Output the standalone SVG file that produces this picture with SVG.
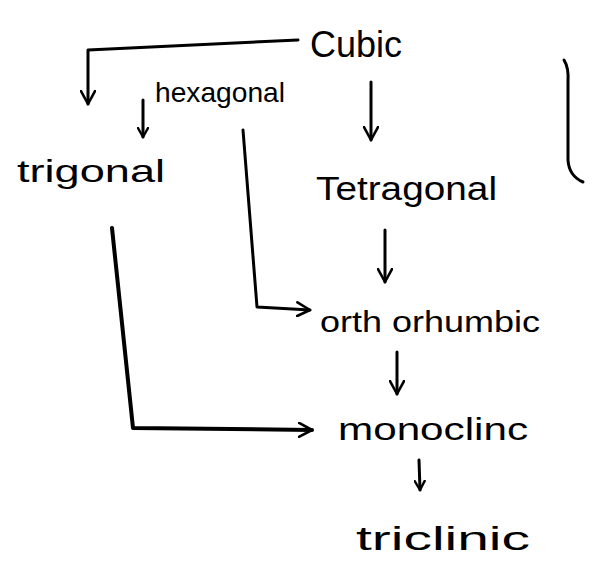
<svg xmlns="http://www.w3.org/2000/svg" width="593" height="570" viewBox="0 0 593 570">
  <style>
    .lbl { font-family: "Liberation Sans", "DejaVu Sans", sans-serif; fill: #000; }
    .ln { fill: none; stroke: #000; stroke-width: 3; stroke-linecap: round; stroke-linejoin: round; }
  </style>
  <defs>
    <marker id="arr" viewBox="0 0 12 12" refX="10" refY="6" markerWidth="12" markerHeight="12" markerUnits="userSpaceOnUse" orient="auto">
      <path d="M1,1 L10,6 L1,11" fill="none" stroke="#000" stroke-width="2.4" stroke-linecap="round" stroke-linejoin="round"/>
    </marker>
    <marker id="arrL" viewBox="0 0 16 16" refX="14" refY="8" markerWidth="16" markerHeight="16" markerUnits="userSpaceOnUse" orient="auto">
      <path d="M1,1 L14,8 L1,15" fill="none" stroke="#000" stroke-width="2.6" stroke-linecap="round" stroke-linejoin="round"/>
    </marker>
  </defs>
  <rect width="593" height="570" fill="#fff"/>

  <g id="connectors">
    <!-- cubic to trigonal branch -->
    <path class="ln" d="M298,40 L88,50 L88,104" marker-end="url(#arrL)"/>
    <!-- hexagonal to trigonal -->
    <path class="ln" d="M143,100 L143,137" marker-end="url(#arr)"/>
    <!-- cubic to tetragonal -->
    <path class="ln" d="M371,82 L371,140" marker-end="url(#arrL)"/>
    <!-- tetragonal to orthorhombic -->
    <path class="ln" d="M385,230 L385,282" marker-end="url(#arrL)"/>
    <!-- hexagonal to orthorhombic -->
    <path class="ln" d="M243,130 L257,307 L310,310" marker-end="url(#arrL)"/>
    <!-- orthorhombic to monoclinic -->
    <path class="ln" d="M397,352 L397,394" marker-end="url(#arrL)"/>
    <!-- trigonal to monoclinic -->
    <path class="ln" style="stroke-width:4" d="M112,228 L133,428 L312,430" marker-end="url(#arrL)"/>
    <!-- monoclinic to triclinic -->
    <path class="ln" d="M419,460 L420,490" marker-end="url(#arr)"/>
  </g>

  <!-- right-hand bracket -->
  <path class="ln" d="M564,60 Q569,68 568,82 L568,160 Q569,176 583,182"/>

  <g id="cubic"><text class="lbl" x="310" y="57" font-size="36" textLength="92" lengthAdjust="spacingAndGlyphs">Cubic</text></g>
  <g id="hexagonal"><text class="lbl" x="155" y="102" font-size="28" textLength="130" lengthAdjust="spacingAndGlyphs">hexagonal</text></g>
  <g id="trigonal"><text class="lbl" x="17" y="182" font-size="32" textLength="148" lengthAdjust="spacingAndGlyphs">trigonal</text></g>
  <g id="tetragonal"><text class="lbl" x="316" y="200" font-size="33" textLength="181" lengthAdjust="spacingAndGlyphs">Tetragonal</text></g>
  <g id="orthorhombic"><text class="lbl" x="320" y="332" font-size="30" textLength="220" lengthAdjust="spacingAndGlyphs">orth orhumbic</text></g>
  <g id="monoclinic"><text class="lbl" x="338" y="440" font-size="32" textLength="190" lengthAdjust="spacingAndGlyphs">monoclinc</text></g>
  <g id="triclinic"><text class="lbl" x="356" y="550" font-size="34" textLength="174" lengthAdjust="spacingAndGlyphs">triclinic</text></g>
</svg>
